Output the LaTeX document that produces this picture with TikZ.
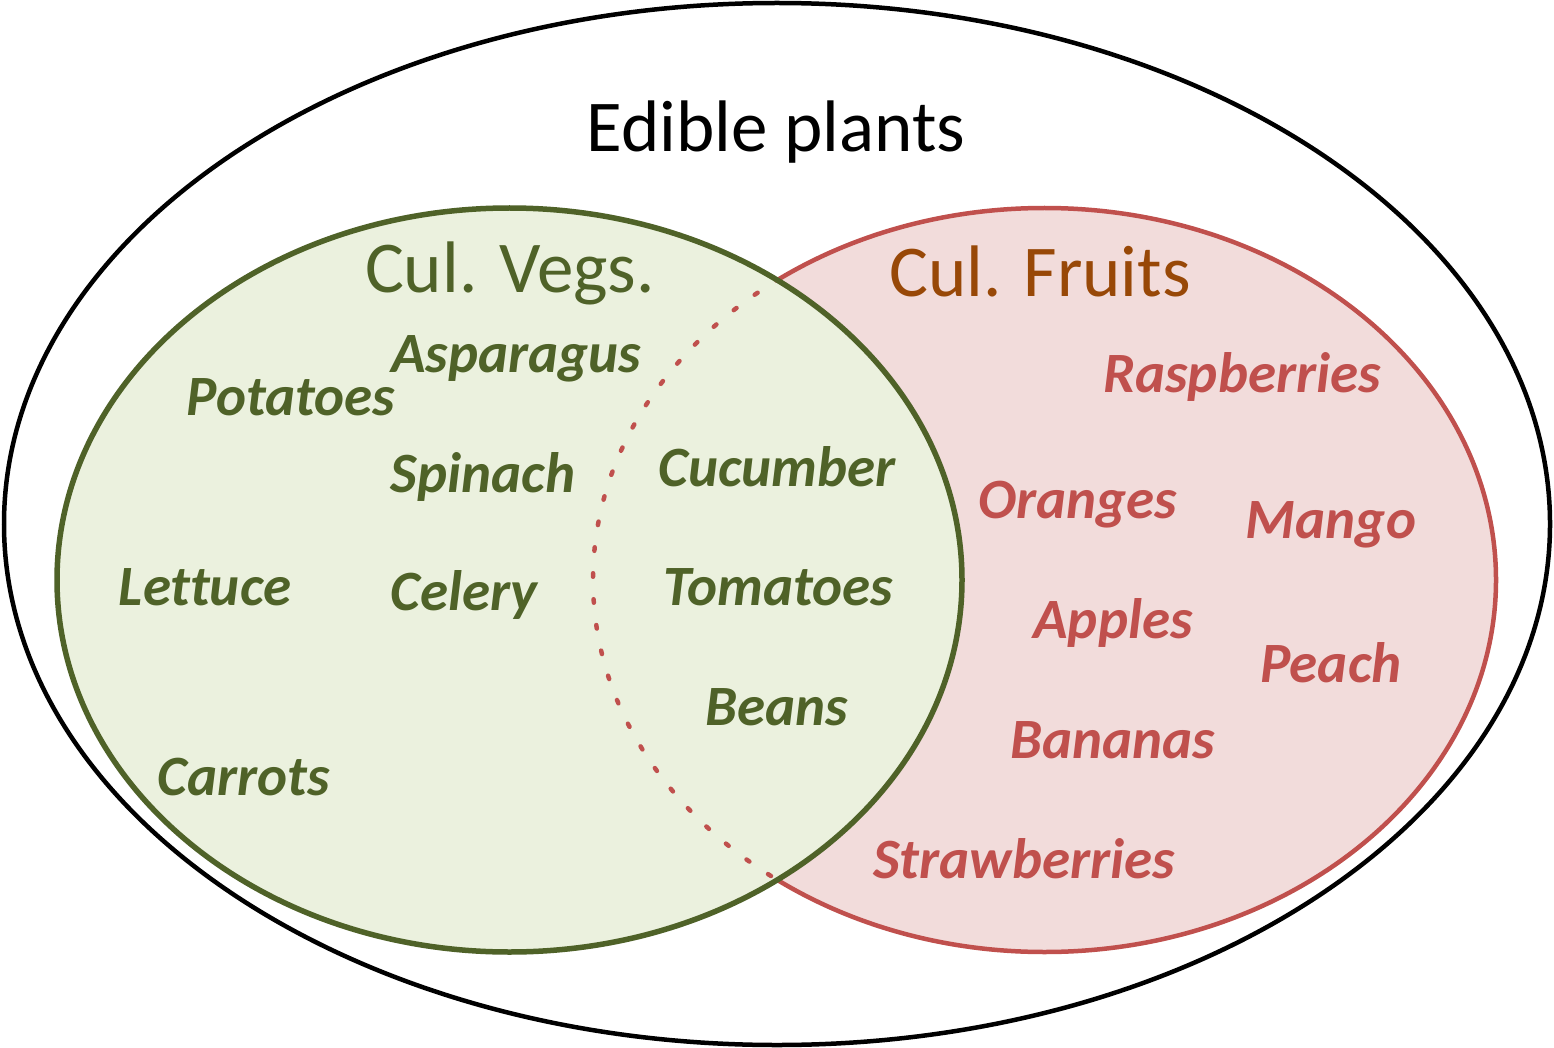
\documentclass[tikz,border=0pt]{standalone}
\usepackage{fontspec}
\setmainfont{Carlito}[Ligatures=NoCommon]
\definecolor{vegline}{HTML}{4F6228}
\definecolor{vegfill}{HTML}{EBF1DE}
\definecolor{fruitline}{HTML}{C0504D}
\definecolor{fruitfill}{HTML}{F2DCDB}
\definecolor{fruittitle}{HTML}{984807}
\begin{document}
\begin{tikzpicture}[x=1pt,y=-1pt,
  title/.style={anchor=base,inner sep=0pt,font=\fontsize{73}{80}\selectfont},
  veg/.style={anchor=base,inner sep=0pt,text=vegline,font=\fontsize{57}{64}\selectfont\bfseries\itshape},
  fruit/.style={anchor=base,inner sep=0pt,text=fruitline,font=\fontsize{57}{64}\selectfont\bfseries\itshape}]
\useasboundingbox (0,0) rectangle (1554,1048);
% outer set
\draw[line width=4.5pt,fill=white] (777,524) ellipse [x radius=773, y radius=521];
% fruits set
\draw[line width=4.5pt,draw=fruitline,fill=fruitfill] (1044.5,580) ellipse [x radius=451.5, y radius=372];
% vegetables fill
\fill[vegfill] (509.5,580) ellipse [x radius=452.5, y radius=372];
% hidden part of fruits boundary
\begin{scope}
  \clip (509.5,580) ellipse [x radius=452.5, y radius=372];
  \draw[line width=4.5pt,draw=fruitline,line cap=round,dash pattern=on 3.5pt off 22.5pt] (1044.5,580) ellipse [x radius=451.5, y radius=372];
\end{scope}
% vegetables border
\draw[line width=5.5pt,draw=vegline] (509.5,580) ellipse [x radius=452.5, y radius=372];
% titles
\node[title] (edible) at (776,152) {Edible plants};
\node[title,text=vegline] (vegtitle) at (510,293) {Cul. Vegs.};
\node[title,text=fruittitle] (fruittitle) at (1040,297) {Cul. Fruits};
% vegetables
\node[veg] (asparagus) at (516,372) {Asparagus};
\node[veg] (potatoes) at (291,415) {Potatoes};
\node[veg] (spinach) at (483,492) {Spinach};
\node[veg] (lettuce) at (205,605) {Lettuce};
\node[veg] (celery) at (464,610) {Celery};
\node[veg] (carrots) at (244,795) {Carrots};
\node[veg] (cucumber) at (777,486) {Cucumber};
\node[veg] (tomatoes) at (778,605) {Tomatoes};
\node[veg] (beans) at (777,725) {Beans};
% fruits
\node[fruit] (raspberries) at (1242,392) {Raspberries};
\node[fruit] (oranges) at (1078,518) {Oranges};
\node[fruit] (mango) at (1331,538) {Mango};
\node[fruit] (apples) at (1113,638) {Apples};
\node[fruit] (peach) at (1331,682) {Peach};
\node[fruit] (bananas) at (1113,758) {Bananas};
\node[fruit] (strawberries) at (1024,878) {Strawberries};
\end{tikzpicture}
\end{document}
